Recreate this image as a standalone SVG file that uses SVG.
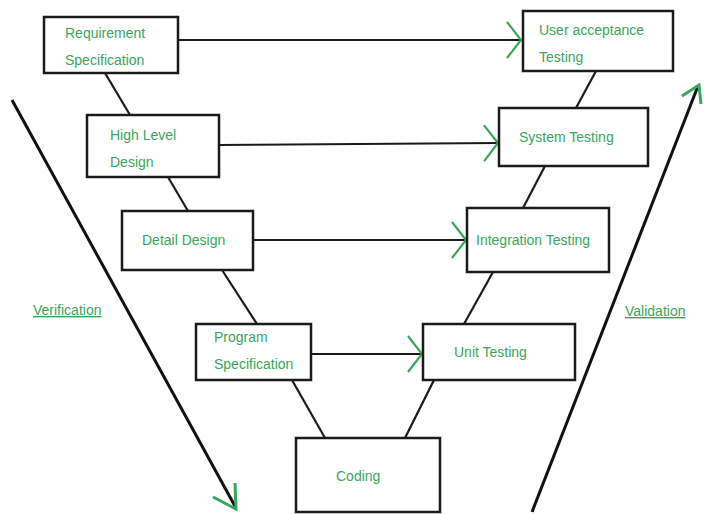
<svg xmlns="http://www.w3.org/2000/svg" width="704" height="514" viewBox="0 0 704 514">
<style>
.box{fill:#fff;stroke:#1a1a1a;stroke-width:2.5}
.ln{stroke:#1a1a1a;stroke-width:2.2;fill:none}
.big{stroke:#111;stroke-width:3;fill:none}
.t{font-family:"Liberation Sans",Arial,sans-serif;font-size:14px;fill:#3aa55c}
.u{text-decoration:underline}
</style>
<defs>
<marker id="ah" markerUnits="userSpaceOnUse" viewBox="-16 -20 20 40" refX="0" refY="0" markerWidth="20" markerHeight="40" orient="auto">
<path d="M-14,-18 L0,0 L-14,18" fill="none" stroke="#3aa55c" stroke-width="2.2"/>
</marker>
</defs>
<rect width="704" height="514" fill="#fff"/>
<g id="connectors">
<line class="ln" x1="178" y1="40" x2="521" y2="40" marker-end="url(#ah)"/>
<line class="ln" x1="219" y1="145" x2="498" y2="143" marker-end="url(#ah)"/>
<line class="ln" x1="253" y1="240" x2="466" y2="240" marker-end="url(#ah)"/>
<line class="ln" x1="311" y1="354" x2="422" y2="354" marker-end="url(#ah)"/>
<line class="ln" x1="105" y1="73" x2="130" y2="115"/>
<line class="ln" x1="168" y1="177" x2="188" y2="211"/>
<line class="ln" x1="222" y1="270" x2="257" y2="324"/>
<line class="ln" x1="292" y1="380" x2="325" y2="438"/>
<line class="ln" x1="405" y1="438" x2="434" y2="380"/>
<line class="ln" x1="464" y1="324" x2="493" y2="272"/>
<line class="ln" x1="523" y1="208" x2="545" y2="166"/>
<line class="ln" x1="576" y1="108" x2="596" y2="71"/>
<line class="big" x1="12" y1="100" x2="236" y2="508"/>
<path d="M213,497 L236,509 L235,483" fill="none" stroke="#3aa55c" stroke-width="3"/>
<line class="big" x1="532" y1="512" x2="698" y2="86"/>
<path d="M682,96 L699,85 L701,104" fill="none" stroke="#3aa55c" stroke-width="3"/>
</g>
<g id="req"><rect class="box" x="44" y="17" width="134" height="56"/><text class="t" x="65" y="38">Requirement</text><text class="t" x="65" y="65">Specification</text></g>
<g id="hld"><rect class="box" x="87" y="115" width="132" height="62"/><text class="t" x="110" y="140">High Level</text><text class="t" x="110" y="167">Design</text></g>
<g id="dd"><rect class="box" x="122" y="211" width="131" height="59"/><text class="t" x="142" y="245">Detail Design</text></g>
<g id="ps"><rect class="box" x="196" y="324" width="115" height="56"/><text class="t" x="214" y="342">Program</text><text class="t" x="214" y="369">Specification</text></g>
<g id="coding"><rect class="box" x="296" y="438" width="144" height="74"/><text class="t" x="336" y="481">Coding</text></g>
<g id="uat"><rect class="box" x="523" y="11" width="150" height="60"/><text class="t" x="539" y="35">User acceptance</text><text class="t" x="539" y="62">Testing</text></g>
<g id="st"><rect class="box" x="499" y="108" width="149" height="58"/><text class="t" x="519" y="142">System Testing</text></g>
<g id="it"><rect class="box" x="467" y="208" width="142" height="64"/><text class="t" x="476" y="245">Integration Testing</text></g>
<g id="ut"><rect class="box" x="423" y="324" width="152" height="56"/><text class="t" x="454" y="357">Unit Testing</text></g>
<g id="labels"><text class="t u" x="33" y="315">Verification</text><text class="t u" x="625" y="316">Validation</text></g>
</svg>
